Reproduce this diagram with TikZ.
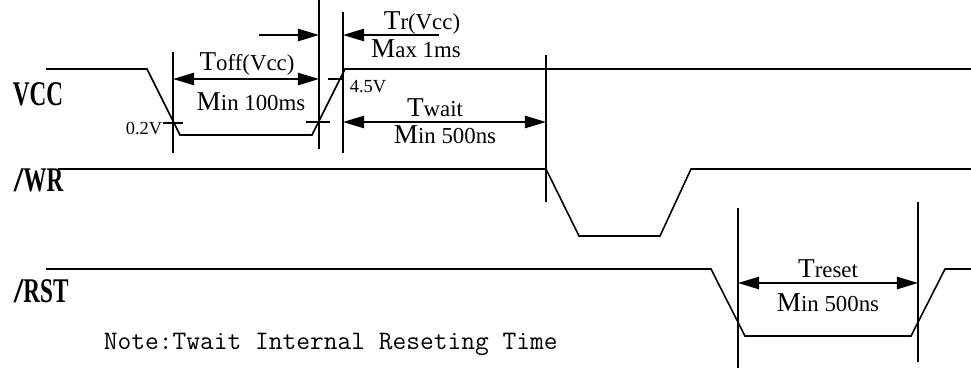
\documentclass[tikz,border=0pt]{standalone}
\usepackage{fontspec}
\usepackage{graphicx}
\setmainfont{Liberation Serif}
\usetikzlibrary{arrows.meta}

\newcommand{\sigfont}{\bfseries\fontsize{19.7}{22}\selectfont}
\newcommand{\notefont}{\ttfamily\fontsize{15.2}{17}\selectfont}
\newcommand{\dimfont}{\fontsize{13}{15}\selectfont}
\newcommand{\voltfont}{\fontsize{10.5}{12}\selectfont}
\newcommand{\firstcap}[1]{{\fontsize{15.5}{17}\selectfont #1}}
\newcommand{\siglabel}[1]{\scalebox{0.67}[1]{\sigfont #1}}

\begin{document}
\begin{tikzpicture}[x=0.02cm, y=-0.02cm, line width=0.9pt,
		wave/.style={line join=miter},
		dim/.style={{Triangle[length=12pt,width=7pt]}-{Triangle[length=12pt,width=7pt]}},
		dimto/.style={-{Triangle[length=12pt,width=7pt]}},
		txt/.style={inner sep=0pt, anchor=base}]
				\useasboundingbox (0,0) rectangle (971,370);
				% signal names
				\node[txt, anchor=base west] (vcc) at (12,105) {\siglabel{VCC}};
				\node[txt, anchor=base west] (wr) at (13,191) {{\sigfont /}\siglabel{WR}};
				\node[txt, anchor=base west] (rst) at (13,302) {{\sigfont /}\siglabel{RST}};
				% waveforms
				\draw[wave] (46,69) -- (147,69) -- (180,135) -- (312,135) -- (345,69) -- (971,69);
				\draw[wave] (58,169) -- (546,169) -- (579,236) -- (660,236) -- (691,169) -- (971,169);
				\draw[wave] (46,269) -- (711,269) -- (745,336) -- (911,336) -- (945,269) -- (971,269);
				% marker lines
				\draw (173,52) -- (173,153);
				\draw (319,0) -- (319,149);
				\draw (343,12) -- (343,153);
				\draw (546,55) -- (546,202);
				\draw (738,208) -- (738,368);
				\draw (918,202) -- (918,362);
				% level ticks
				\draw (163,123) -- (183,123);
				\draw (306,122) -- (330,122);
				\draw (328,79) -- (343,79);
				\node[txt, anchor=base east] (lo) at (163,134) {\voltfont 0.2V};
				\node[txt, anchor=base west] (hi) at (349,92) {\voltfont 4.5V};
				% Toff
				\coordinate (toffL) at (173,79);
				\coordinate (toffR) at (319,79);
				\draw[dim] (toffL) -- (toffR);
				\node[txt] (toff) at (247,70) {\dimfont\firstcap{T}off(Vcc)};
				\node[txt] (toffmin) at (251,110) {\dimfont\firstcap{M}in 100ms};
				% Tr
				\coordinate (trA) at (259,35);
				\coordinate (trB) at (319,35);
				\coordinate (trC) at (343,35);
				\coordinate (trD) at (439,35);
				\draw[dimto] (trA) -- (trB);
				\draw[dimto] (trD) -- (trC);
				\node[txt] (tr) at (422,29) {\dimfont\firstcap{T}r(Vcc)};
				\node[txt] (trmax) at (416,57) {\dimfont\firstcap{M}ax 1ms};
				% Twait
				\coordinate (twL) at (343,122);
				\coordinate (twR) at (546,122);
				\draw[dim] (twL) -- (twR);
				\node[txt] (twait) at (435,116) {\dimfont\firstcap{T}wait};
				\node[txt] (twmin) at (445,143) {\dimfont\firstcap{M}in 500ns};
				% Treset
				\coordinate (trsL) at (738,283);
				\coordinate (trsR) at (918,283);
				\draw[dim] (trsL) -- (trsR);
				\node[txt] (treset) at (828,277) {\dimfont\firstcap{T}reset};
				\node[txt] (trsmin) at (828,311) {\dimfont\firstcap{M}in 500ns};
				% note
				\node[txt, anchor=base west] (note) at (103,349) {\notefont Note:Twait Internal Reseting Time};
			\end{tikzpicture}
\end{document}
